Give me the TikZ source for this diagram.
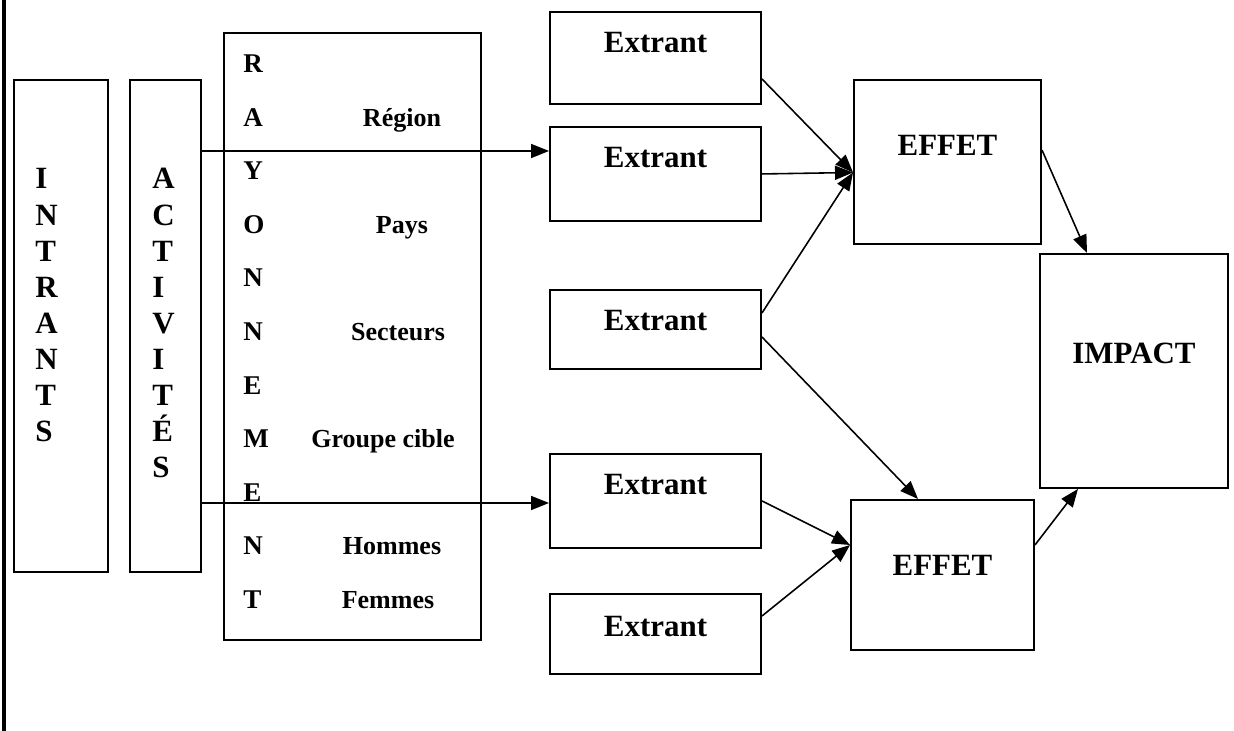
\documentclass[tikz,border=0pt]{standalone}
\usepackage{fontspec}
\setmainfont{Liberation Serif}
\usetikzlibrary{arrows.meta}

\tikzset{
  boite/.style={draw, line width=1.1pt, inner ysep=0pt, anchor=north, font=\bfseries\fontsize{17.6}{20}\selectfont},
  lettre/.style={anchor=base west, inner sep=0pt, font=\bfseries\fontsize{17.6}{20}\selectfont},
  petit/.style={anchor=base, inner sep=0pt, font=\bfseries\fontsize{14.8}{17}\selectfont},
  fleche/.style={line width=0.9pt, -{Triangle[length=0.36cm,width=0.28cm]}}
}

\begin{document}
\begin{tikzpicture}
	\useasboundingbox (0,0) rectangle (24.68,-14.62);
	\draw[line width=0.08cm] (0.07,0) -- (0.07,-14.62);

	% colonnes de gauche
	\node[boite, minimum width=1.88cm, minimum height=9.84cm] (intrants) at (1.22,-1.58) {};
	\node[boite, minimum width=1.42cm, minimum height=9.84cm] (activites) at (3.31,-1.58) {};
	\node[boite, minimum width=5.14cm, minimum height=12.14cm] (rayon) at (7.05,-0.64) {};

	\foreach \l [count=\i] in {I,N,T,R,A,N,T,S}
		\node[lettre] (i\i) at (0.70,{-3.78-0.722*(\i-1)}) {\l};
	\foreach \l [count=\i] in {A,C,T,I,V,I,T,É,S}
		\node[lettre] (a\i) at (3.04,{-3.78-0.722*(\i-1)}) {\l};
	\foreach \l [count=\i] in {R,A,Y,O,N,N,E,M,E,N,T}
		\node[lettre, font=\bfseries\fontsize{15.4}{17}\selectfont] (r\i) at (4.86,{-1.45-1.072*(\i-1)}) {\l};

	\node[petit] (region) at (8.04,0 |- r2.base) {Région};
	\node[petit] (pays) at (8.04,0 |- r4.base) {Pays};
	\node[petit] (secteurs) at (7.96,0 |- r6.base) {Secteurs};
	\node[petit] (cible) at (7.66,0 |- r8.base) {Groupe cible};
	\node[petit] (hommes) at (7.84,0 |- r10.base) {Hommes};
	\node[petit] (femmes) at (7.76,0 |- r11.base) {Femmes};

	% extrants, effets, impact
	\begin{scope}[every node/.style={boite, minimum width=4.22cm}]
		\node[text height=0.82cm, text depth=1.02cm] (e1) at (13.11,-0.22) {Extrant};
		\node[text height=0.82cm, text depth=1.06cm] (e2) at (13.11,-2.52) {Extrant};
		\node[text height=0.82cm, text depth=0.76cm] (e3) at (13.11,-5.78) {Extrant};
		\node[text height=0.82cm, text depth=1.06cm] (e4) at (13.11,-9.06) {Extrant};
		\node[text height=0.86cm, text depth=0.74cm] (e5) at (13.11,-11.86) {Extrant};
	\end{scope}

	\node[boite, minimum width=3.74cm, text height=1.52cm, text depth=1.76cm] (effet1) at (18.95,-1.58) {EFFET};
	\node[boite, minimum width=3.66cm, text height=1.52cm, text depth=1.48cm] (effet2) at (18.85,-9.98) {EFFET};
	\node[boite, minimum width=3.76cm, text height=2.20cm, text depth=2.48cm] (impact) at (22.68,-5.06) {IMPACT};

	% fleches
	\begin{scope}[every path/.style={fleche}]
		\draw (activites.east |- 0,-3.02) -- (e2.west |- 0,-3.02);
		\draw (activites.east |- 0,-10.06) -- (e4.west |- 0,-10.06);
		\draw (e1.east |- 0,-1.58) -- (effet1.west |- 0,-3.45);
		\draw (e2.east) -- (effet1.west |- 0,-3.45);
		\draw (e3.east |- 0,-6.26) -- (effet1.west |- 0,-3.45);
		\draw (e3.east |- 0,-6.74) -- (effet2.north -| 18.36,0);
		\draw (e4.east) -- (effet2.west |- 0,-10.90);
		\draw (e5.east |- 0,-12.32) -- (effet2.west |- 0,-10.90);
		\draw (effet1.east |- 0,-3.00) -- (impact.north -| 21.74,0);
		\draw (effet2.east |- 0,-10.90) -- (impact.south -| 21.56,0);
	\end{scope}
\end{tikzpicture}
\end{document}
